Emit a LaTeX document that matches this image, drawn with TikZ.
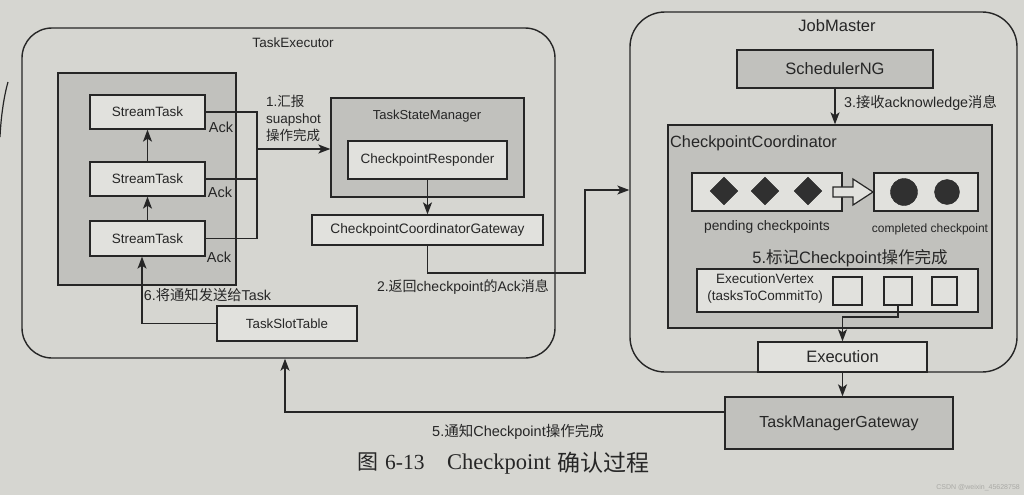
\documentclass[tikz,border=0pt]{standalone}
\usepackage{fontspec}
\setmainfont{Liberation Sans}
\newfontfamily\cjk{Noto Sans CJK SC}
\newfontfamily\capserif{Liberation Serif}
\usetikzlibrary{arrows.meta,shapes.geometric}
\definecolor{paper}{RGB}{214,214,209}
\definecolor{shade}{RGB}{193,193,189}
\definecolor{wbox}{RGB}{225,225,221}
\definecolor{ink}{RGB}{38,38,38}
\definecolor{dark}{RGB}{48,48,48}
\definecolor{wmark}{RGB}{170,170,166}
\newcommand{\zh}[1]{{\cjk #1}}
\newcommand{\fsz}[1]{\fontsize{#1}{#1}\selectfont}
\tikzset{
  roundframe/.style={draw=ink, line width=1.4pt, rounded corners=#1, inner sep=0pt},
  box/.style={draw=ink, line width=1.3pt, fill=wbox, inner sep=0pt, text=ink},
  gbox/.style={draw=ink, line width=1.3pt, fill=shade, inner sep=0pt, text=ink},
  conn/.style={draw=ink, line width=1.3pt},
  arr/.style={conn, -{Stealth[length=12pt,width=9pt,inset=3pt]}},
  lbl/.style={inner sep=0pt, text=ink},
}
\begin{document}
\begin{tikzpicture}[x=1pt,y=-1pt]
\fill[paper] (0,0) rectangle (1024,495);
\useasboundingbox (0,0) rectangle (1024,495);

% pen mark at the left edge
\draw[ink, line width=1.2pt] (8,82) .. controls (4,96) and (1,116) .. (0,137);

% ---------------- TaskExecutor ----------------
\node[roundframe=30pt, minimum width=533pt, minimum height=330pt] (te) at (288.5,193) {};
\node[lbl, font=\fsz{13.5}] (tel) at (293,43) {TaskExecutor};

\node[gbox, minimum width=178pt, minimum height=212pt] (stc) at (147,179) {};
\node[box, minimum width=115pt, minimum height=34pt, font=\fsz{13.5}] (st1) at (147.5,112) {StreamTask};
\node[box, minimum width=115pt, minimum height=34pt, font=\fsz{13.5}] (st2) at (147.5,179) {StreamTask};
\node[box, minimum width=115pt, minimum height=35pt, font=\fsz{13.5}] (st3) at (147.5,238.5) {StreamTask};
\node[lbl, font=\fsz{14.5}] (ack1) at (221,127) {Ack};
\node[lbl, font=\fsz{14.5}] (ack2) at (220,192) {Ack};
\node[lbl, font=\fsz{14.5}] (ack3) at (219,257) {Ack};

\node[gbox, minimum width=193pt, minimum height=99pt] (tsm) at (427.5,147.5) {};
\node[lbl, font=\fsz{13}] (tsml) at (427,116) {TaskStateManager};
\node[box, minimum width=159pt, minimum height=38pt, font=\fsz{13.5}] (cr) at (427.5,160) {CheckpointResponder};
\node[box, minimum width=231pt, minimum height=30pt, font=\fsz{13.7}] (ccg) at (427.5,230) {CheckpointCoordinatorGateway};
\node[box, minimum width=140pt, minimum height=35pt, font=\fsz{13.3}] (tst) at (287,323.5) {TaskSlotTable};

\node[lbl, anchor=west, align=left, font=\fontsize{13.5}{17}\selectfont] (l1) at (266,118) {1.\zh{汇报}\\suapshot\\\zh{操作完成}};
\node[lbl, font=\fsz{14}] (l2) at (463,287) {2.\zh{返回}checkpoint\zh{的}Ack\zh{消息}};
\node[lbl, font=\fsz{14.3}] (l6) at (207.5,295) {6.\zh{将通知发送给}Task};
\node[lbl, font=\fsz{14.5}] (l5b) at (518,432) {5.\zh{通知}Checkpoint\zh{操作完成}};

% ---------------- JobMaster ----------------
\node[roundframe=35pt, minimum width=387pt, minimum height=360pt] (jm) at (823.5,192) {};
\node[lbl, font=\fsz{16.5}] (jml) at (837,26) {JobMaster};
\node[gbox, minimum width=196pt, minimum height=38pt, font=\fsz{16.5}] (sng) at (835,69) {SchedulerNG};
\node[lbl, anchor=west, font=\fsz{14.3}] (l3) at (844,103) {3.\zh{接收}acknowledge\zh{消息}};

\node[gbox, minimum width=324pt, minimum height=203pt] (cc) at (830,226.5) {};
\node[lbl, anchor=west, font=\fsz{16.3}] (ccl) at (670,143) {CheckpointCoordinator};
\node[box, minimum width=150pt, minimum height=38pt] (pend) at (767,192) {};
\node[box, minimum width=104pt, minimum height=38pt] (comp) at (926,192) {};
\node[diamond, draw=ink, fill=dark, minimum width=28pt, minimum height=28pt, inner sep=0pt] (d1) at (724,191) {};
\node[diamond, draw=ink, fill=dark, minimum width=28pt, minimum height=28pt, inner sep=0pt] (d2) at (765,191) {};
\node[diamond, draw=ink, fill=dark, minimum width=28pt, minimum height=28pt, inner sep=0pt] (d3) at (808,191) {};
\node[circle, draw=ink, fill=dark, minimum size=27pt, inner sep=0pt] (c1) at (904,192) {};
\node[circle, draw=ink, fill=dark, minimum size=25pt, inner sep=0pt] (c2) at (947,192) {};
\draw[ink, line width=1.2pt, fill=wbox] (833,187) -- (853,187) -- (853,179) -- (873,192) -- (853,205) -- (853,197) -- (833,197) -- cycle;
\node[lbl, font=\fsz{13.8}] (pl) at (767,227) {pending checkpoints};
\node[lbl, font=\fsz{12}] (cl) at (930,229) {completed checkpoint};
\node[lbl, font=\fsz{16.5}] (l5) at (850,258) {5.\zh{标记}Checkpoint\zh{操作完成}};

\node[box, minimum width=281pt, minimum height=43pt] (ev) at (837.5,290.5) {};
\node[lbl, align=center, font=\fontsize{13.5}{17}\selectfont] (evl) at (765,289) {ExecutionVertex\\(tasksToCommitTo)};
\node[box, minimum width=29pt, minimum height=28pt] (sq1) at (847.5,291) {};
\node[box, minimum width=28pt, minimum height=28pt] (sq2) at (898,291) {};
\node[box, minimum width=25pt, minimum height=28pt] (sq3) at (944.5,291) {};

\node[box, minimum width=169pt, minimum height=30pt, font=\fsz{16.5}] (ex) at (842.5,357) {Execution};
\node[gbox, minimum width=228pt, minimum height=52pt, font=\fsz{16}] (tmg) at (839,423) {TaskManagerGateway};

% ---------------- connectors ----------------
\draw[arr] (st3.north) -- (st2.south);
\draw[arr] (st2.north) -- (st1.south);
\coordinate (jx) at (257,149);
\draw[conn] (st1.east) -- (st1.east -| jx) -- (st3.east -| jx) -- (st3.east);
\draw[conn] (st2.east) -- (st2.east -| jx);
\draw[arr] (jx) -- (jx -| tsm.west);
\draw[arr] (cr.south) -- (ccg.north);
\coordinate (rb) at (585,273);
\coordinate (rt) at (585,190);
\draw[arr] (ccg.south) |- (rb) -- (rt) -- (rt -| jm.west);
\draw[arr] (sng.south) -- (sng.south |- cc.north);
\coordinate (eb) at (898,317);
\draw[arr] (sq2.south) -- (eb) -| (ex.north);
\draw[arr] (ex.south) -- (ex.south |- tmg.north);
\coordinate (nb) at (285,412);
\draw[arr] (tmg.west |- nb) -- (nb) -- (nb |- te.south);
\coordinate (sb) at (142,323.5);
\draw[arr] (tst.west) -- (sb) -- (sb |- st3.south);

% ---------------- caption ----------------
\node[anchor=base west, inner sep=0pt, text=ink, font=\cjk\fsz{21}] (cap1) at (357,469) {图};
\node[anchor=base west, inner sep=0pt, text=ink, font=\capserif\fsz{21.5}] (cap2) at (385,469) {6-13};
\node[anchor=base west, inner sep=0pt, text=ink, font=\capserif\fsz{22.5}] (cap3) at (447,469) {Checkpoint};
\node[anchor=base west, inner sep=0pt, text=ink, font=\cjk\fsz{23}] (cap4) at (557,471) {确认过程};
\node[anchor=east, inner sep=0pt, text=wmark, font=\fsz{7}] (wm) at (1020,488) {CSDN @weixin\_45628758};
\end{tikzpicture}
\end{document}
